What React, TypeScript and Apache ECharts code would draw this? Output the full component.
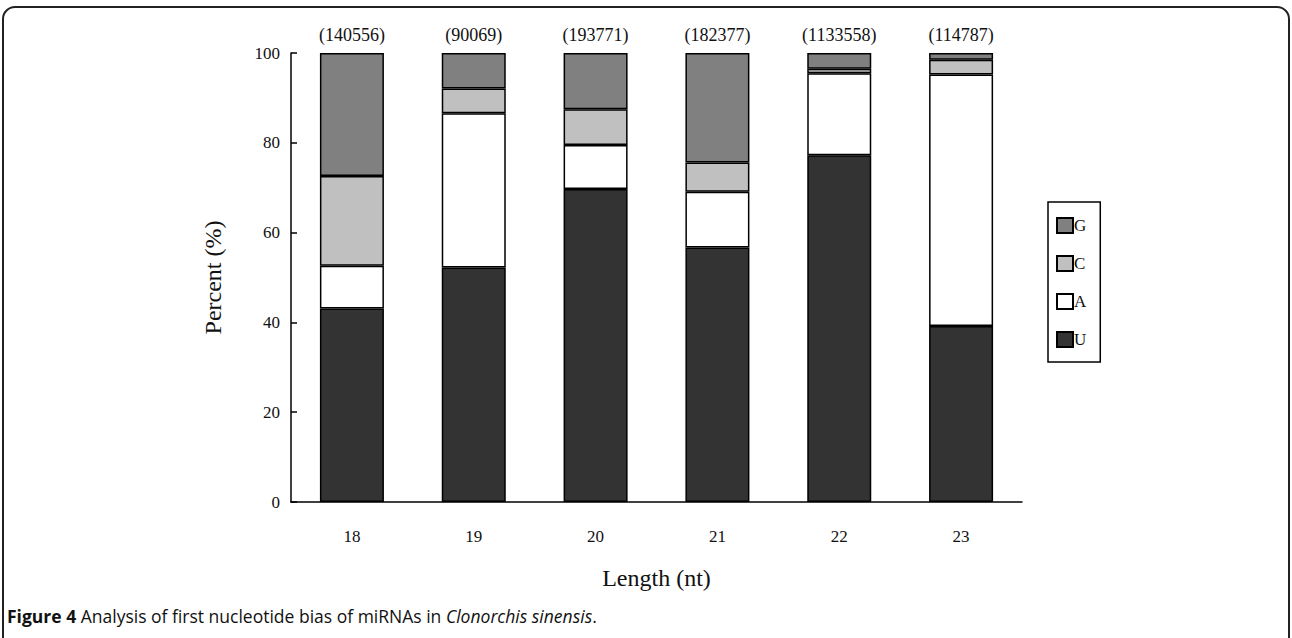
import React, { useEffect, useRef } from "react";
import * as echarts from "echarts";

const categories = ["18", "19", "20", "21", "22", "23"];
const totals = [140556, 90069, 193771, 182377, 1133558, 114787];
const seriesU = [43.1, 52.2, 69.7, 56.7, 77.2, 39.2];
const seriesA = [9.5, 34.4, 9.8, 12.4, 18.3, 56.0];
const seriesC = [20.0, 5.5, 8.0, 6.5, 1.0, 3.3];
const seriesG = [27.4, 7.9, 12.5, 24.4, 3.5, 1.5];
const yTicks = [0, 20, 40, 60, 80, 100];

const SERIF = "'Liberation Serif', 'DejaVu Serif', serif";
const SANS = "'Open Sans', 'Noto Sans', sans-serif";

export default function App() {
  const ref = useRef<HTMLDivElement>(null);
  useEffect(() => {
    if (!ref.current) return;
    const chart = echarts.init(ref.current, undefined, { renderer: "svg" });
    const barBase = {
      type: "bar",
      stack: "total",
      barWidth: 64,
      itemStyle: { borderColor: "#000", borderWidth: 1.5 },
    };
    chart.setOption({
      animation: false,
      backgroundColor: "#fff",
      grid: { left: 291, right: 270, top: 53, bottom: 136 },
      legend: {
        orient: "vertical",
        left: 1048,
        top: 202,
        data: ["G", "C", "A", "U"],
        icon: "rect",
        itemWidth: 16,
        itemHeight: 15,
        itemGap: 21,
        padding: [15, 14, 14, 8],
        borderColor: "#000",
        borderWidth: 1.5,
        textStyle: { fontFamily: SERIF, fontSize: 17, color: "#111", padding: [0, 0, 0, -4] },
      },
      xAxis: {
        type: "category",
        data: categories,
        name: "Length (nt)",
        nameLocation: "middle",
        nameGap: 64,
        nameTextStyle: { fontFamily: SERIF, fontSize: 24, color: "#111" },
        axisLine: { lineStyle: { color: "#000", width: 1.5 } },
        axisTick: { show: false },
        axisLabel: { fontFamily: SERIF, fontSize: 17, color: "#111", margin: 26 },
      },
      yAxis: {
        type: "value",
        min: yTicks[0],
        max: yTicks[yTicks.length - 1],
        interval: 20,
        name: "Percent (%)",
        nameLocation: "middle",
        nameGap: 66,
        nameRotate: 90,
        nameTextStyle: { fontFamily: SERIF, fontSize: 24, color: "#111" },
        axisLine: { show: true, lineStyle: { color: "#000", width: 1.5 } },
        axisTick: { show: true, inside: true, length: 6, lineStyle: { color: "#000", width: 1.5 } },
        splitLine: { show: false },
        axisLabel: { fontFamily: SERIF, fontSize: 17, color: "#111", margin: 11 },
      },
      series: [
        { ...barBase, name: "U", data: seriesU, itemStyle: { ...barBase.itemStyle, color: "#333333" } },
        { ...barBase, name: "A", data: seriesA, itemStyle: { ...barBase.itemStyle, color: "#ffffff" } },
        { ...barBase, name: "C", data: seriesC, itemStyle: { ...barBase.itemStyle, color: "#c0c0c0" } },
        {
          ...barBase,
          name: "G",
          data: seriesG,
          itemStyle: { ...barBase.itemStyle, color: "#808080" },
          label: {
            show: true,
            position: "top",
            distance: 9,
            fontFamily: SERIF,
            fontSize: 18,
            color: "#111",
            formatter: (p: any) => "(" + totals[p.dataIndex] + ")",
          },
        },
      ],
      graphic: [
        {
          type: "rect",
          silent: true,
          shape: { x: 3, y: 7, width: 1286, height: 720, r: 12 },
          style: { fill: "none", stroke: "#222", lineWidth: 2 },
        },
        {
          type: "text",
          left: 7,
          top: 607,
          style: {
            text: "{b|Figure 4} Analysis of first nucleotide bias of miRNAs in {i|Clonorchis sinensis}.",
            fontFamily: SANS,
            fontSize: 17.5,
            fill: "#111",
            rich: {
              b: { fontFamily: SANS, fontSize: 17.5, fontWeight: "bold", fill: "#111" },
              i: { fontFamily: SANS, fontSize: 17.5, fontStyle: "italic", fill: "#111" },
            },
          },
        },
      ],
    });
    return () => chart.dispose();
  }, []);
  return (
    <div
      ref={ref}
      style={{ position: "fixed", left: 0, top: 0, width: 1292, height: 638, background: "#fff" }}
    />
  );
}
